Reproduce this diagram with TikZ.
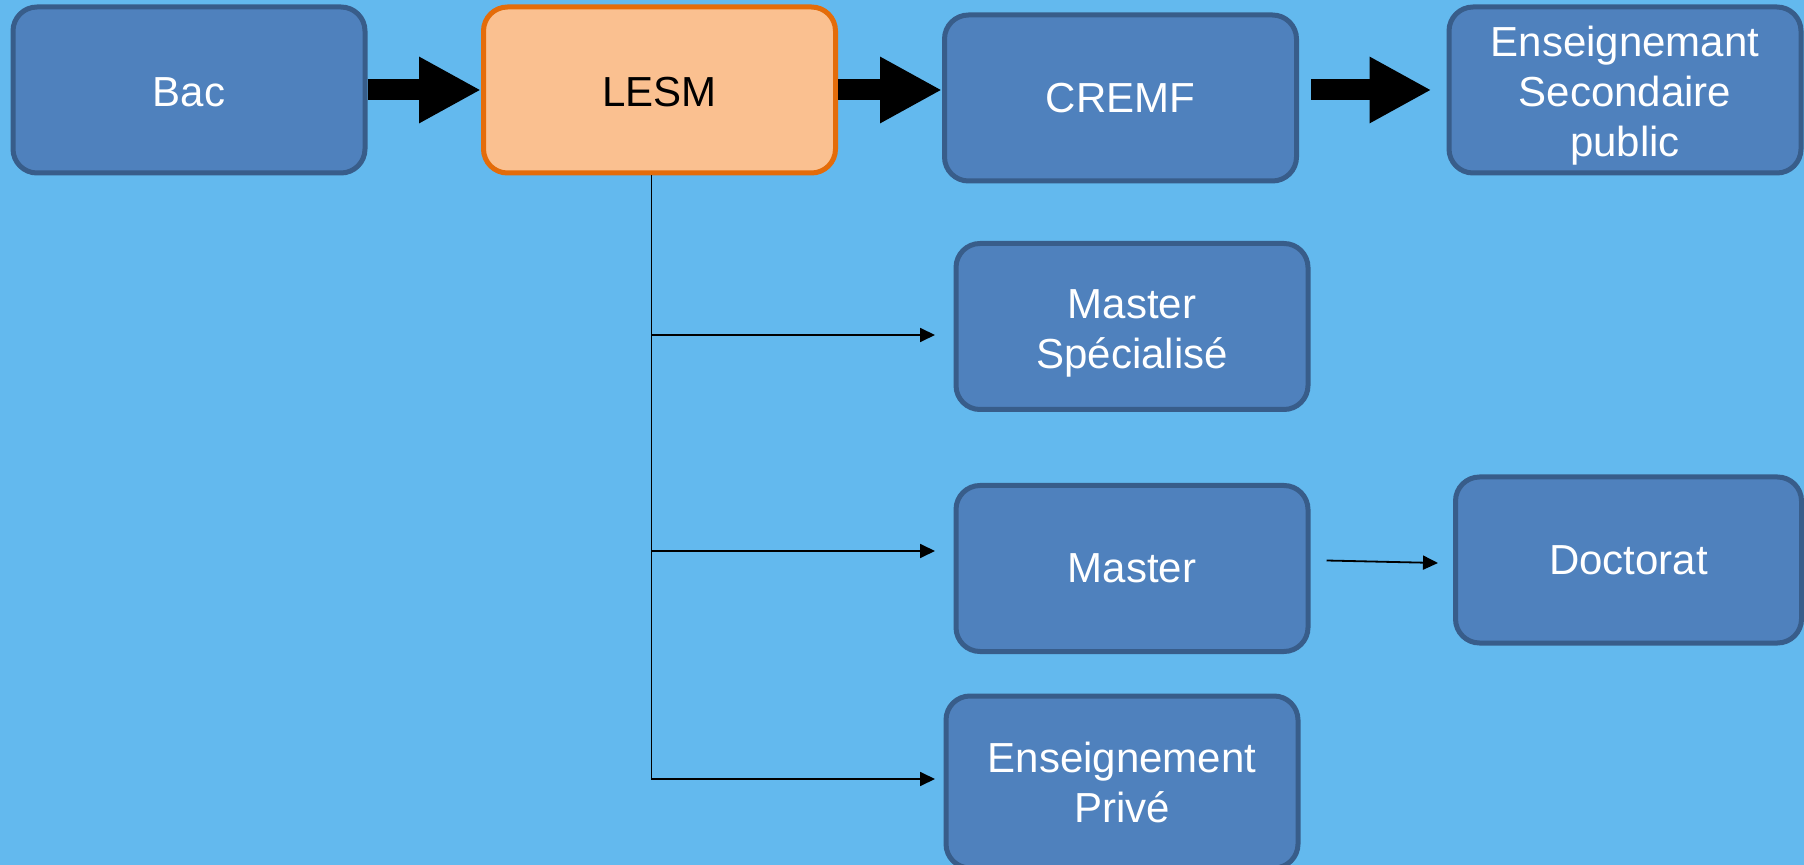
\documentclass[tikz,border=0pt]{standalone}
\usepackage{fontspec}
\setmainfont{Liberation Sans}
\usetikzlibrary{arrows.meta}
\definecolor{bgblue}{RGB}{99,185,238}
\definecolor{boxblue}{RGB}{79,129,189}
\definecolor{boxline}{RGB}{56,93,138}
\definecolor{lesmfill}{RGB}{250,192,144}
\definecolor{lesmline}{RGB}{228,108,10}

\begin{document}
\begin{tikzpicture}[x=0.5pt,y=0.5pt,yscale=-1,xscale=1,
  bluebox/.style={draw=boxline,fill=boxblue,line width=2.5pt,rounded corners=12pt,
    minimum width=176pt,minimum height=83pt,inner sep=0pt,align=center,
    text=white,font=\fontsize{21}{25}\selectfont},
  orangebox/.style={bluebox,draw=lesmline,fill=lesmfill,text=black},
  bigarrow/.style={line width=10.5pt,-{Triangle[length=31pt,width=31pt]}},
  thinarrow/.style={line width=0.9pt,-{Triangle[length=7.5pt,width=7pt]}}]

%background
\fill [bgblue] (0,0) rectangle (1804,865);
\useasboundingbox (0,0) rectangle (1804,865);

%Rounded Rect
\node [bluebox] (bac) at (189,90) {\raisebox{-1pt}[\height][\depth]{Bac}};
%Rounded Rect
\node [orangebox] (lesm) at (659.5,90) {\raisebox{-1pt}[\height][\depth]{LESM}};
%Rounded Rect
\node [bluebox] (cremf) at (1120.5,98) {CREMF};
%Rounded Rect
\node [bluebox] (enssec) at (1625,90)
  {\raisebox{-3.5pt}[\height][\depth]{\begin{tabular}{@{}c@{}}Enseignemant\\Secondaire\\public\end{tabular}}};
%Rounded Rect
\node [bluebox] (mspec) at (1132,326.5)
  {\raisebox{-3.5pt}[\height][\depth]{\begin{tabular}{@{}c@{}}Master\\Spécialisé\end{tabular}}};
%Rounded Rect
\node [bluebox] (master) at (1132,568.5) {Master};
%Rounded Rect
\node [bluebox,minimum width=173pt] (doctorat) at (1628.5,560) {Doctorat};
%Rounded Rect
\node [bluebox,minimum height=86pt] (ensprive) at (1122,782)
  {\raisebox{-2.5pt}[\height][\depth]{\begin{tabular}{@{}c@{}}Enseignement\\Privé\end{tabular}}};

%Block Arrows
\draw [bigarrow] (bac.east) -- (lesm.west);
\draw [bigarrow] (lesm.east) -- (lesm.east -| cremf.west);
\draw [bigarrow,shorten <=6pt,shorten >=7.5pt] (cremf.east |- enssec.west) -- (enssec.west);

%Straight Lines
\coordinate (trunk) at ([xshift=-4pt]lesm.south);
\coordinate (mspec-in) at (935,335);
\coordinate (master-in) at (935,551);
\coordinate (ensprive-in) at (935,779);
\draw [thinarrow] (trunk) |- (ensprive-in);
\draw [thinarrow] (trunk |- mspec-in) -- (mspec-in);
\draw [thinarrow] (trunk |- master-in) -- (master-in);
\draw [thinarrow] ([shift={(16,-8)}]master.east) -- ([shift={(-15,3)}]doctorat.west);

\end{tikzpicture}
\end{document}
